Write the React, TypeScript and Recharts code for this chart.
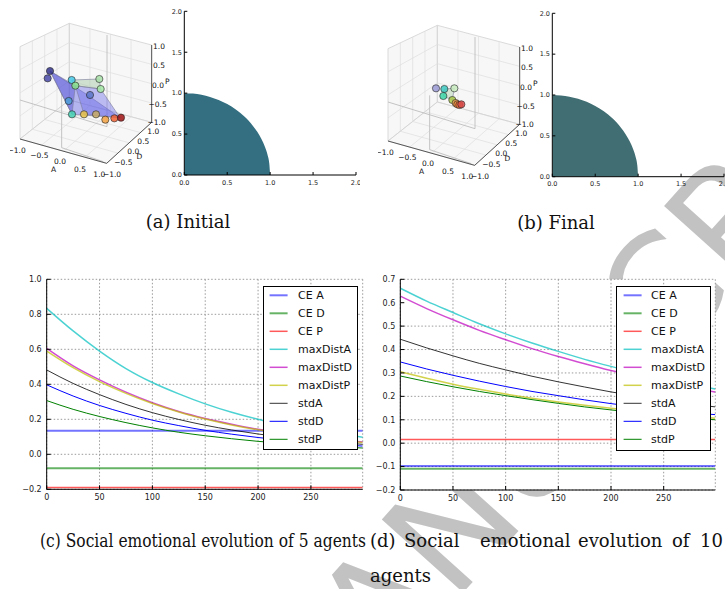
import React from "react";
import {
  LineChart,
  Line,
  XAxis,
  YAxis,
  CartesianGrid,
  AreaChart,
  Area,
  ScatterChart,
  Scatter,
} from "recharts";

// ---------- (c) / (d) time series ----------
const steps = [0, 25, 50, 75, 100, 125, 150, 175, 200, 225, 250, 275, 299];
const stepTicks = [0, 50, 100, 150, 200, 250];

const seriesNames = ["CE A", "CE D", "CE P", "maxDistA", "maxDistD", "maxDistP", "stdA", "stdD", "stdP"];

const fiveCeA = [0.135, 0.135, 0.135, 0.135, 0.135, 0.135, 0.135, 0.135, 0.135, 0.135, 0.135, 0.135, 0.135];
const fiveCeD = [-0.08, -0.08, -0.08, -0.08, -0.08, -0.08, -0.08, -0.08, -0.08, -0.08, -0.08, -0.08, -0.08];
const fiveCeP = [-0.19, -0.19, -0.19, -0.19, -0.19, -0.19, -0.19, -0.19, -0.19, -0.19, -0.19, -0.19, -0.19];
const fiveMaxDistA = [0.834, 0.705, 0.59, 0.49, 0.41, 0.345, 0.288, 0.24, 0.2, 0.168, 0.14, 0.117, 0.098];
const fiveMaxDistD = [0.605, 0.505, 0.425, 0.355, 0.295, 0.245, 0.205, 0.172, 0.143, 0.12, 0.1, 0.083, 0.07];
const fiveMaxDistP = [0.59, 0.495, 0.415, 0.348, 0.29, 0.242, 0.202, 0.168, 0.14, 0.117, 0.098, 0.082, 0.068];
const fiveStdA = [0.482, 0.405, 0.341, 0.285, 0.238, 0.199, 0.166, 0.139, 0.116, 0.097, 0.081, 0.068, 0.057];
const fiveStdD = [0.397, 0.333, 0.279, 0.234, 0.195, 0.164, 0.137, 0.115, 0.096, 0.08, 0.067, 0.056, 0.047];
const fiveStdP = [0.307, 0.257, 0.216, 0.181, 0.151, 0.126, 0.106, 0.089, 0.074, 0.062, 0.052, 0.043, 0.036];

const tenCeA = [-0.098, -0.098, -0.098, -0.098, -0.098, -0.098, -0.098, -0.098, -0.098, -0.098, -0.098, -0.098, -0.098];
const tenCeD = [-0.109, -0.109, -0.109, -0.109, -0.109, -0.109, -0.109, -0.109, -0.109, -0.109, -0.109, -0.109, -0.109];
const tenCeP = [0.016, 0.016, 0.016, 0.016, 0.016, 0.016, 0.016, 0.016, 0.016, 0.016, 0.016, 0.016, 0.016];
const tenMaxDistA = [0.662, 0.607, 0.558, 0.51, 0.467, 0.428, 0.392, 0.358, 0.328, 0.3, 0.275, 0.252, 0.231];
const tenMaxDistD = [0.628, 0.575, 0.527, 0.482, 0.442, 0.404, 0.37, 0.339, 0.31, 0.284, 0.26, 0.238, 0.218];
const tenMaxDistP = [0.305, 0.277, 0.252, 0.23, 0.21, 0.192, 0.176, 0.162, 0.149, 0.137, 0.126, 0.116, 0.107];
const tenStdA = [0.444, 0.407, 0.373, 0.341, 0.313, 0.286, 0.262, 0.24, 0.219, 0.201, 0.184, 0.168, 0.155];
const tenStdD = [0.347, 0.317, 0.29, 0.265, 0.242, 0.221, 0.203, 0.185, 0.169, 0.155, 0.142, 0.13, 0.122];
const tenStdP = [0.287, 0.263, 0.241, 0.221, 0.203, 0.186, 0.17, 0.155, 0.142, 0.13, 0.119, 0.109, 0.1];

const fiveTicks = [-0.2, 0, 0.2, 0.4, 0.6, 0.8, 1.0];
const tenTicks = [-0.2, -0.1, 0, 0.1, 0.2, 0.3, 0.4, 0.5, 0.6, 0.7];

// ---------- (a) / (b) quarter circle ----------
const unitTicks = [0, 0.5, 1, 1.5, 2];
const arcX = [0, 0.1, 0.2, 0.3, 0.4, 0.5, 0.6, 0.7, 0.8, 0.85, 0.9, 0.94, 0.97, 0.99, 1.0];
const arcY = [1.0, 0.995, 0.98, 0.954, 0.917, 0.866, 0.8, 0.714, 0.6, 0.527, 0.436, 0.341, 0.243, 0.141, 0];

// ---------- 3D panels (screen positions, 1 unit = 1/3 px) ----------
const initialPoints = [
  [120, 168], [113, 190], [185, 195], [196, 212], [268, 192], [272, 222], [176, 258],
  [240, 240], [186, 298], [222, 298], [258, 298], [286, 314], [313, 310], [333, 308],
];
const initialColors = [
  "#34348c", "#4a4aa8", "#45c8e6", "#86e08c", "#a8e0a8", "#a6eaa6", "#4e9ed8",
  "#5a74c8", "#44d2b4", "#e8c244", "#c8aa64", "#f2a242", "#f06232", "#a01212",
];
const initialFaces = [
  [[120, 168], [186, 298], [330, 308], [225, 235]],
  [[196, 212], [272, 222], [330, 308], [222, 298]],
  [[185, 195], [268, 192], [272, 222], [196, 212]],
  [[120, 168], [196, 212], [186, 298]],
];
const initialFaceColors = ["#5858e4", "#6a6aea", "#9cc09c", "#4848d0"];

const finalPoints = [
  [174, 214], [199, 216], [229, 214], [196, 237], [223, 249], [233, 258], [238, 262], [244, 264], [250, 262],
];
const finalColors = ["#9a9ad6", "#3cc8c0", "#c8ecc0", "#3cd6a6", "#a8c848", "#e8a050", "#f08838", "#e86a3a", "#d84a4a"];
const finalFaces = [[[199, 216], [229, 214], [223, 249], [196, 237]]];
const finalFaceColors = ["#a6cfa6"];

const corner = {
  LB: [30, 372], FB: [290, 445], RB: [425, 322], BB: [178, 255],
  LT: [30, 95], BT: [178, 25], RT: [425, 90],
};
const innerFrame = [
  [[291, 60], [291, 335]],
  [[30, 255], [291, 335]],
  [[155, 235], [155, 398]],
  [[155, 398], [280, 440]],
];
const tick3d = [
  { t: "1.0", x: 447, y: 93 }, { t: "0.5", x: 447, y: 152 }, { t: "0.0", x: 444, y: 210 },
  { t: "\u22120.5", x: 443, y: 268 }, { t: "\u22121.0", x: 440, y: 322 },
  { t: "\u22121.0", x: 20, y: 405 }, { t: "\u22120.5", x: 88, y: 422 }, { t: "0.0", x: 150, y: 438 },
  { t: "0.5", x: 210, y: 462 }, { t: "1.0", x: 268, y: 478 },
  { t: "\u22121.0", x: 306, y: 478 }, { t: "\u22120.5", x: 340, y: 443 }, { t: "0.0", x: 370, y: 408 },
  { t: "0.5", x: 400, y: 380 }, { t: "1.0", x: 430, y: 350 },
  { t: "P", x: 472, y: 198 }, { t: "A", x: 131, y: 464 }, { t: "D", x: 388, y: 424 },
];

const SERIES_STYLE: Record<string, { color: string; opacity: number; width: number }> = {
  "CE A": { color: "#0000ff", opacity: 0.55, width: 2 },
  "CE D": { color: "#008000", opacity: 0.6, width: 2 },
  "CE P": { color: "#ff0000", opacity: 0.65, width: 1.5 },
  maxDistA: { color: "#00bfbf", opacity: 0.7, width: 1.5 },
  maxDistD: { color: "#bf00bf", opacity: 0.7, width: 1.5 },
  maxDistP: { color: "#bfbf00", opacity: 0.7, width: 1.5 },
  stdA: { color: "#000000", opacity: 0.8, width: 1 },
  stdD: { color: "#0000ff", opacity: 1, width: 1 },
  stdP: { color: "#008000", opacity: 1, width: 1 },
};

const fmt = (v: number) => v.toFixed(1).replace("-", "\u2212");
const tickFont = { fontSize: 8, fill: "#222", fontFamily: "DejaVu Sans" };

function Legend({ left, top, width, height, sampleX, textX }: any) {
  return (
    <svg style={{ position: "absolute", left, top }} width={width} height={height}>
      <rect x={0.5} y={0.5} width={width - 1} height={height - 1} fill="#fff" stroke="#000" strokeWidth={1} />
      {seriesNames.map((n, i) => {
        const s = SERIES_STYLE[n];
        const cy = 9.3 + i * 18;
        return (
          <g key={n}>
            <line x1={sampleX} x2={sampleX + 18} y1={cy} y2={cy} stroke={s.color} strokeOpacity={s.opacity} strokeWidth={s.width} />
            <text x={textX} y={cy + 4} fontSize={11} fontFamily="DejaVu Sans" fill="#111">{n}</text>
          </g>
        );
      })}
    </svg>
  );
}

function EvolutionChart({ left, top, width, values, domain, ticks, margin, yWidth, legend }: any) {
  const rows = steps.map((s, i) => {
    const r: any = { step: s };
    seriesNames.forEach((n, k) => (r[n] = values[k][i]));
    return r;
  });
  return (
    <div style={{ position: "absolute", left, top, width, height: 240 }}>
      <LineChart width={width} height={240} data={rows} margin={margin}>
        <CartesianGrid stroke="#9a9a9a" strokeDasharray="1.5 2" fill="#fff" fillOpacity={1} />
        <XAxis dataKey="step" type="number" domain={[0, 299]} ticks={stepTicks} height={20}
          tick={tickFont} tickSize={-4} tickMargin={9.5} stroke="#000" allowDataOverflow />
        <XAxis xAxisId="top" orientation="top" dataKey="step" type="number" domain={[0, 299]} ticks={stepTicks}
          height={0} tick={false} tickSize={-4} stroke="#000" allowDataOverflow />
        <YAxis type="number" domain={domain} ticks={ticks} width={yWidth} tick={tickFont} tickFormatter={fmt}
          tickSize={-4} tickMargin={9} stroke="#000" allowDataOverflow />
        <YAxis yAxisId="right" orientation="right" type="number" domain={domain} ticks={ticks} width={0}
          tick={false} tickSize={-4} stroke="#000" allowDataOverflow />
        {seriesNames.map((n) => {
          const s = SERIES_STYLE[n];
          return (
            <Line key={n} type="monotone" dataKey={n} stroke={s.color} strokeOpacity={s.opacity}
              strokeWidth={s.width} dot={false} activeDot={false} isAnimationActive={false} />
          );
        })}
      </LineChart>
      <Legend {...legend} />
    </div>
  );
}

function ArcChart({ left, top, height, color }: any) {
  const rows = arcX.map((x, i) => ({ x, y: arcY[i] }));
  const small = { fontSize: 6.5, fill: "#222", fontFamily: "DejaVu Sans" };
  return (
    <div style={{ position: "absolute", left, top }}>
      <AreaChart width={200} height={height} data={rows} margin={{ top: 6.3, right: 4, bottom: 6, left: 0 }}>
        <XAxis dataKey="x" type="number" domain={[0, 2]} ticks={unitTicks} height={14} tick={small}
          tickFormatter={(v: number) => v.toFixed(1)} tickSize={-3} tickMargin={8} stroke="#000" allowDataOverflow />
        <XAxis xAxisId="top" orientation="top" dataKey="x" type="number" domain={[0, 2]} ticks={unitTicks}
          height={0} tick={false} tickSize={-3} stroke="#000" allowDataOverflow />
        <YAxis type="number" domain={[0, 2]} ticks={unitTicks} width={24.3} tick={small}
          tickFormatter={(v: number) => v.toFixed(1)} tickSize={-3} tickMargin={5.3} stroke="#000" allowDataOverflow />
        <YAxis yAxisId="right" orientation="right" type="number" domain={[0, 2]} ticks={unitTicks} width={0}
          tick={false} tickSize={-3} stroke="#000" allowDataOverflow />
        <Area type="monotone" dataKey="y" stroke="none" fill={color} fillOpacity={1} isAnimationActive={false} activeDot={false} />
      </AreaChart>
    </div>
  );
}

const K = 1 / 3;
function PolyShape(props: any) {
  const { cx, cy, payload } = props;
  const pts = payload.pts
    .map(([px, py]: number[]) => `${cx + (px - payload.x) * K},${cy + (py - payload.y) * K}`)
    .join(" ");
  if (payload.closed)
    return <polygon points={pts} fill={payload.fill} fillOpacity={payload.fo} stroke={payload.stroke} strokeWidth={payload.sw} />;
  return <polyline points={pts} fill="none" stroke={payload.stroke} strokeWidth={payload.sw} />;
}
function DotShape(props: any) {
  const { cx, cy, payload } = props;
  return <circle cx={cx} cy={cy} r={3.6} fill={payload.c} fillOpacity={0.85} stroke="#222" strokeWidth={0.6} />;
}
function LabelShape(props: any) {
  const { cx, cy, payload } = props;
  return (
    <text x={cx} y={cy} textAnchor="middle" dominantBaseline="central" fontSize={7.5} fontFamily="DejaVu Sans" fill="#111">
      {payload.t}
    </text>
  );
}

const lerp = (a: number[], b: number[], t: number) => [a[0] + (b[0] - a[0]) * t, a[1] + (b[1] - a[1]) * t];
function paneGrid(q: number[][]) {
  const out: number[][][] = [];
  [0.25, 0.5, 0.75].forEach((t) => {
    out.push([lerp(q[0], q[1], t), lerp(q[3], q[2], t)]);
    out.push([lerp(q[0], q[3], t), lerp(q[1], q[2], t)]);
  });
  return out;
}

function Panel3D({ left, top, points, colors, faces, faceColors }: any) {
  const { LB, FB, RB, BB, LT, BT, RT } = corner;
  const panes = [[LB, BB, BT, LT], [BB, RB, RT, BT], [LB, FB, RB, BB]];
  const poly = (pts: number[][], extra: any) => ({ x: pts[0][0], y: pts[0][1], pts, ...extra });
  const paneItems = panes.map((p) => poly(p, { closed: true, fill: "#f2f2f2", fo: 0.6, stroke: "#d2d2d2", sw: 0.8 }));
  const gridItems = panes.flatMap(paneGrid).map((s) => poly(s, { stroke: "#dedede", sw: 0.7 }));
  const frameItems = innerFrame.map((s) => poly(s, { stroke: "#bdbdbd", sw: 0.9 }));
  const axisItems = [[LB, FB], [FB, RB], [RB, RT]].map((s) => poly(s, { stroke: "#333", sw: 0.8 }));
  const faceItems = faces.map((f: number[][], i: number) =>
    poly(f, { closed: true, fill: faceColors[i], fo: 0.42, stroke: "#7a7a9a", sw: 0.6 }));
  const dots = points.map((p: number[], i: number) => ({ x: p[0], y: p[1], c: colors[i] }));
  // 8px of slack around the 160x165 drawing area so edge labels are not clipped
  return (
    <div style={{ position: "absolute", left: left - 8, top: top - 4 }}>
      <ScatterChart width={180} height={185} margin={{ top: 4, right: 12, bottom: 16, left: 8 }}>
        <XAxis type="number" dataKey="x" domain={[0, 480]} hide allowDataOverflow />
        <YAxis type="number" dataKey="y" domain={[0, 495]} reversed hide allowDataOverflow />
        <Scatter data={paneItems} shape={PolyShape} isAnimationActive={false} />
        <Scatter data={gridItems} shape={PolyShape} isAnimationActive={false} />
        <Scatter data={frameItems} shape={PolyShape} isAnimationActive={false} />
        <Scatter data={axisItems} shape={PolyShape} isAnimationActive={false} />
        <Scatter data={faceItems} shape={PolyShape} isAnimationActive={false} />
        <Scatter data={dots} shape={DotShape} isAnimationActive={false} />
        <Scatter data={tick3d} shape={LabelShape} isAnimationActive={false} />
      </ScatterChart>
    </div>
  );
}

export default function App() {
  const serif = "DejaVu Serif";
  return (
    <div style={{ position: "absolute", left: 0, top: 0, width: 725, height: 589, overflow: "hidden", background: "#fff" }}>
      <svg style={{ position: "absolute", left: 0, top: 0 }} width={725} height={589}>
        <text x={298} y={776} transform="rotate(-48 298 776)" fontSize={150} fontFamily="DejaVu Sans" fill="#c2c2c2">
          MANUSCRIPT
        </text>
      </svg>

      <Panel3D left={10} top={15} points={initialPoints} colors={initialColors} faces={initialFaces} faceColors={initialFaceColors} />
      <ArcChart left={160} top={5} height={190} color="#336f80" />
      <Panel3D left={378} top={17} points={finalPoints} colors={finalColors} faces={finalFaces} faceColors={finalFaceColors} />
      <ArcChart left={528} top={7} height={189.7} color="#406e73" />

      <EvolutionChart
        left={0} top={275} width={368}
        values={[fiveCeA, fiveCeD, fiveCeP, fiveMaxDistA, fiveMaxDistD, fiveMaxDistP, fiveStdA, fiveStdD, fiveStdP]}
        domain={[-0.2, 1.0]} ticks={fiveTicks}
        margin={{ top: 4.3, right: 5.3, bottom: 5.7, left: 10 }} yWidth={36.7}
        legend={{ left: 262.7, top: 10.7, width: 95, height: 164, sampleX: 6.6, textX: 35 }}
      />
      <EvolutionChart
        left={360} top={275} width={362}
        values={[tenCeA, tenCeD, tenCeP, tenMaxDistA, tenMaxDistD, tenMaxDistP, tenStdA, tenStdD, tenStdP]}
        domain={[-0.2, 0.7]} ticks={tenTicks}
        margin={{ top: 4.3, right: 6.7, bottom: 5, left: 4 }} yWidth={36.3}
        legend={{ left: 255.7, top: 10.7, width: 95, height: 165, sampleX: 7.6, textX: 35 }}
      />

      <svg style={{ position: "absolute", left: 0, top: 0, pointerEvents: "none" }} width={725} height={589}>
        <g fontFamily={serif} fontSize={18} fill="#111">
          <text x={188} y={228} textAnchor="middle">(a) Initial</text>
          <text x={556} y={229} textAnchor="middle">(b) Final</text>
          <text x={40} y={547} textLength={326} lengthAdjust="spacingAndGlyphs">
            (c) Social emotional evolution of 5 agents
          </text>
          <text x={370} y={547}>(d)</text>
          <text x={404} y={547}>Social</text>
          <text x={480} y={547}>emotional</text>
          <text x={578} y={547}>evolution</text>
          <text x={672} y={547}>of</text>
          <text x={700} y={547}>10</text>
          <text x={370} y={582}>agents</text>
        </g>
      </svg>
    </div>
  );
}
